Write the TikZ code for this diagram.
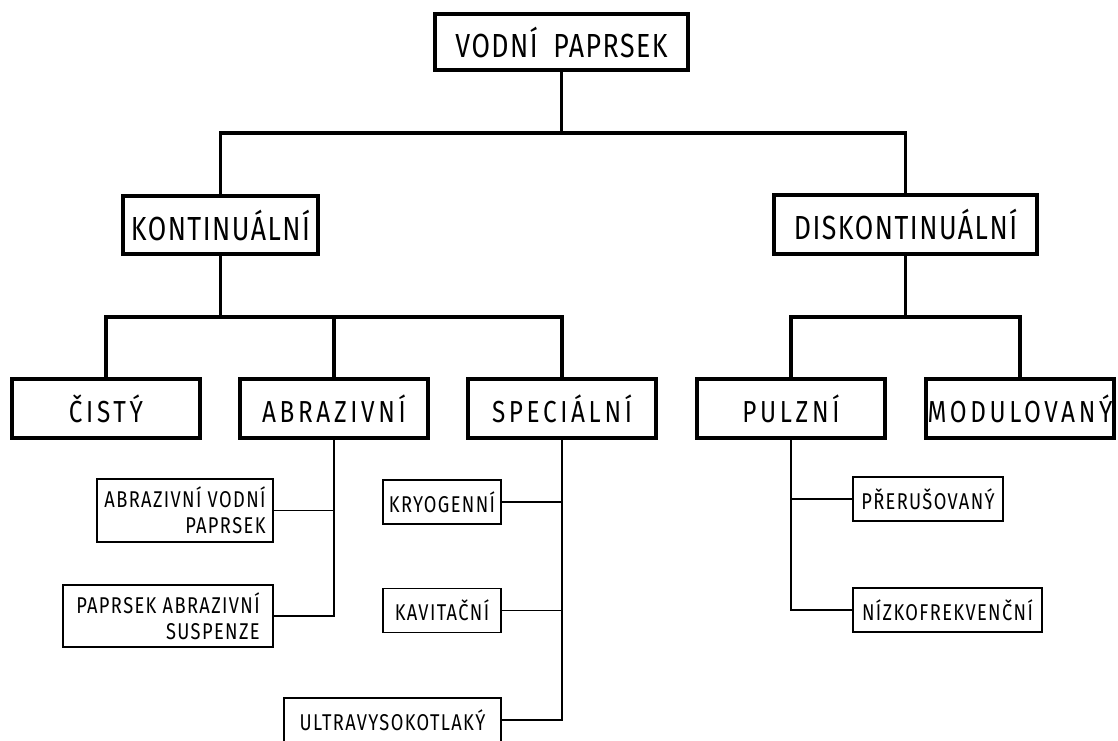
\documentclass[tikz,border=0pt]{standalone}
\usepackage{fontspec}
\setmainfont{Fira Sans}[FakeStretch=0.8]
\usetikzlibrary{positioning}
\newcommand{\bigtxt}{\fontsize{19}{22}\selectfont\addfontfeatures{LetterSpace=4.5}}
\newcommand{\midtxt}{\fontsize{17.3}{20}\selectfont\addfontfeatures{LetterSpace=12}}
\newcommand{\smalltxt}{\fontsize{13}{14.6}\selectfont\addfontfeatures{LetterSpace=6}}
\tikzset{
  topbox/.style={draw,line width=2.2pt,inner sep=2pt,font=\bigtxt},
  typebox/.style={draw,line width=2.2pt,inner sep=2pt,minimum width=3.76cm,minimum height=1.18cm,font=\midtxt},
  leafbox/.style={draw,line width=1.1pt,inner sep=3pt,minimum height=0.88cm,font=\smalltxt,align=right},
  trunk/.style={line width=2.2pt},
  twig/.style={line width=1.1pt}
}
\begin{document}
\begin{tikzpicture}[x=0.02cm,y=-0.02cm]
\useasboundingbox (0,0) rectangle (1118,740);
\clip (0,0) rectangle (1118,740);
\coordinate (rail1) at (0,133); \coordinate (rail2) at (0,317);
\node[topbox,minimum width=5.06cm,minimum height=1.12cm] (vodni) at (561.5,42) {VODNÍ\hspace{4pt} PAPRSEK};
\node[topbox,minimum width=3.9cm,minimum height=1.16cm] (kont) at (220.5,225) {KONTINUÁLNÍ};
\node[topbox,minimum width=5.26cm,minimum height=1.18cm] (diskont) at (905.5,224.5) {DISKONTINUÁLNÍ};
\node[typebox] (cisty) at (106,408.5) {ČISTÝ};
\node[typebox] (abr) at (334,408.5) {ABRAZIVNÍ};
\node[typebox] (spec) at (562,408.5) {SPECIÁLNÍ};
\node[typebox] (pulz) at (791,408.5) {PULZNÍ};
\node[typebox,inner sep=0pt] (modul) at (1020,408.5) {MODULOVANÝ};
% leaves
\node[leafbox,minimum width=3.52cm,minimum height=1.26cm] (awj) at (185,510.5) {ABRAZIVNÍ VODNÍ\\PAPRSEK};
\node[leafbox,minimum width=4.2cm,minimum height=1.24cm] (aswj) at (168,616) {PAPRSEK ABRAZIVNÍ\\SUSPENZE};
\node[leafbox,minimum width=2.36cm] (kryo) at (442,502) {KRYOGENNÍ};
\node[leafbox,minimum width=2.36cm] (kavit) at (442,610.5) {KAVITAČNÍ};
\node[leafbox,minimum width=4.34cm] (uhp) at (392.5,720) {ULTRAVYSOKOTLAKÝ};
\node[leafbox,minimum width=3.0cm] (prer) at (928,499) {PŘERUŠOVANÝ};
\node[leafbox,minimum width=3.78cm] (nizko) at (947.5,610) {NÍZKOFREKVENČNÍ};
% tree
\draw[trunk] (vodni.south) -- (vodni.south |- rail1);
\draw[trunk] (kont.north) -- (kont.north |- rail1) -- (diskont.north |- rail1) -- (diskont.north);
\draw[trunk] (kont.south) -- (kont.south |- rail2);
\draw[trunk] (cisty.north) -- (cisty.north |- rail2) -- (spec.north |- rail2) -- (spec.north);
\draw[trunk] (abr.north) -- (abr.north |- rail2);
\draw[trunk] (diskont.south) -- (diskont.south |- rail2);
\draw[trunk] (pulz.north) -- (pulz.north |- rail2) -- (modul.north |- rail2) -- (modul.north);
\draw[twig] (abr.south) |- (aswj.east); \draw[twig] (awj.east) -- (awj.east -| abr.south);
\draw[twig] (spec.south) |- (uhp.east); \draw[twig] (kryo.east) -- (kryo.east -| spec.south);
\draw[twig] (kavit.east) -- (kavit.east -| spec.south);
\draw[twig] (pulz.south) |- (nizko.west); \draw[twig] (prer.west) -- (prer.west -| pulz.south);
\end{tikzpicture}
\end{document}
